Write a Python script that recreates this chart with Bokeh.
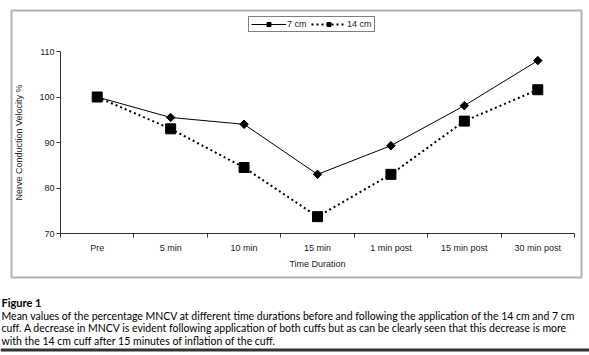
from bokeh.plotting import figure
from bokeh.models import (LinearAxis, FixedTicker, Range1d, Legend, LegendItem,
                          Label, BoxAnnotation)
from bokeh.embed import file_html
from bokeh.resources import INLINE

categories = ["Pre", "5 min", "10 min", "15 min", "1 min post", "15 min post", "30 min post"]
cm7 = [100.0, 95.5, 94.0, 83.0, 89.3, 98.1, 108.0]
cm14 = [100.0, 93.0, 84.5, 73.7, 83.0, 94.7, 101.6]
y_ticks = [70, 80, 90, 100, 110]
caption_title = "Figure 1"
caption_lines = [
    "Mean values of the percentage MNCV at different time durations before and following the application of the 14 cm and 7 cm",
    "cuff. A decrease in MNCV is evident following application of both cuffs but as can be clearly seen that this decrease is more",
    "with the 14 cm cuff after 15 minutes of inflation of the cuff.",
]

xs = list(range(len(categories)))
W, H = 589, 355
# pixel geometry of the inner plotting area (canvas px, from top-left)
PL, PR, PT, PB = 60, 574, 51, 233

n = len(categories)
xlo, xhi = -0.5, n - 0.5
xpp = (xhi - xlo) / (PR - PL)
ylo, yhi = y_ticks[0], y_ticks[-1]
ypp = (yhi - ylo) / (PB - PT)
x_range = Range1d(xlo - PL * xpp, xhi + (W - PR) * xpp)
y_range = Range1d(ylo - (H - PB) * ypp, yhi + PT * ypp)

p = figure(width=W, height=H, output_backend="svg", toolbar_location=None,
           x_range=x_range, y_range=y_range,
           x_axis_location=None, y_axis_location=None, min_border=0)
p.title.visible = False
p.outline_line_color = None
p.background_fill_color = "white"
p.border_fill_color = "white"
p.xgrid.visible = False
p.ygrid.visible = False

font = "Liberation Sans"
tc = "#222222"
ac = "#333333"

yax = LinearAxis(ticker=FixedTicker(ticks=y_ticks, minor_ticks=[]),
                 axis_label="Nerve Conduction Velocity %",
                 fixed_location=xlo, bounds=(ylo, yhi))
yax.major_tick_out = 4
yax.major_tick_in = 0
yax.axis_line_color = ac
yax.major_tick_line_color = ac
yax.major_label_text_font = font
yax.major_label_text_font_size = "9px"
yax.major_label_text_color = tc
yax.major_label_standoff = 2
yax.axis_label_text_font = font
yax.axis_label_text_font_size = "9px"
yax.axis_label_text_font_style = "normal"
yax.axis_label_text_color = tc
yax.axis_label_standoff = 12
p.add_layout(yax, "left")

xax = LinearAxis(ticker=FixedTicker(ticks=xs, minor_ticks=[i - 0.5 for i in range(n + 1)]),
                 axis_label="Time Duration",
                 fixed_location=ylo, bounds=(xlo, xhi))
xax.major_label_overrides = {i: c for i, c in enumerate(categories)}
xax.major_tick_out = 0
xax.major_tick_in = 0
xax.minor_tick_out = 4
xax.minor_tick_in = 0
xax.minor_tick_line_color = ac
xax.axis_line_color = ac
xax.major_label_text_font = font
xax.major_label_text_font_size = "9px"
xax.major_label_text_color = tc
xax.major_label_standoff = 5
xax.axis_label_text_font = font
xax.axis_label_text_font_size = "9px"
xax.axis_label_text_font_style = "normal"
xax.axis_label_text_color = tc
xax.axis_label_standoff = 3
p.add_layout(xax, "below")

l7 = p.line(xs, cm7, line_color="black", line_width=1)
m7 = p.scatter(xs, cm7, marker="square", angle=0.785398, size=6, fill_color="black", line_color="black")
l14 = p.line(xs, cm14, line_color="black", line_width=2, line_dash="2 3")
m14 = p.scatter(xs, cm14, marker="square", size=10, fill_color="black", line_color="black")

legend = Legend(items=[LegendItem(label="7 cm", renderers=[l7, m7]),
                       LegendItem(label="14 cm", renderers=[l14, m14])],
                orientation="horizontal", location=(248, H - 32),
                border_line_color="black", border_line_width=1, background_fill_alpha=1,
                padding=2, spacing=4, margin=0, label_standoff=1,
                glyph_width=35, glyph_height=10,
                label_text_font=font, label_text_font_size="9px", label_text_color=tc)
p.add_layout(legend, "center")

# outer frame box around the chart
p.add_layout(BoxAnnotation(left=11, right=581, top=H - 10, bottom=H - 277,
                           left_units="screen", right_units="screen", top_units="screen", bottom_units="screen",
                           fill_alpha=0, line_color="black", line_width=2, level="overlay"))

cap_font = "Lato"
p.add_layout(Label(x=1, y=H - 302, x_units="screen", y_units="screen", text=caption_title,
                   text_font=cap_font, text_font_size="11px", text_font_style="bold",
                   text_baseline="middle", text_color="black"))
for i, line in enumerate(caption_lines):
    p.add_layout(Label(x=1, y=H - (315 + 12.5 * i), x_units="screen", y_units="screen", text=line,
                       text_font=cap_font, text_font_size="10.5px",
                       text_baseline="middle", text_color="black"))

# bottom rule
p.add_layout(BoxAnnotation(left=0, right=W, top=H - 348, bottom=H - 351,
                           left_units="screen", right_units="screen", top_units="screen", bottom_units="screen",
                           fill_color="#333333", fill_alpha=1, line_color=None, level="overlay"))

open("out.html", "w").write(file_html(p, INLINE))
